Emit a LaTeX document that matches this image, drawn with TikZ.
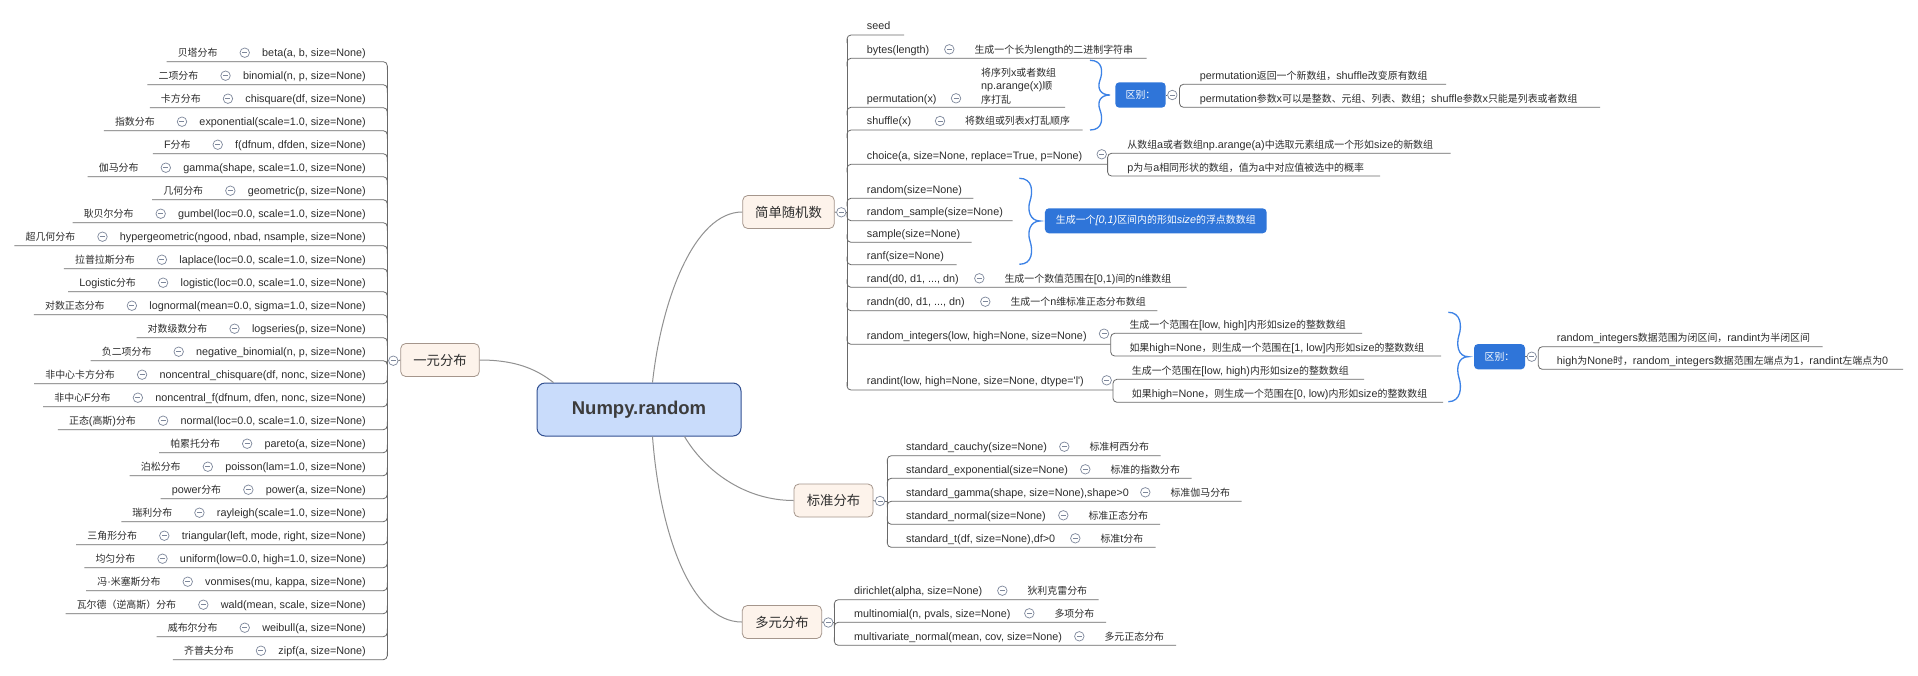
\documentclass[tikz,border=0pt]{standalone}
\usepackage{fontspec}
\setmainfont{Liberation Sans}
\newfontfamily\cjkfont[Scale=0.92]{Noto Sans CJK SC}
\XeTeXinterchartokenstate=1
\newXeTeXintercharclass\cjkcls
\makeatletter
\count@="21
\loop\XeTeXcharclass\count@=0\relax\ifnum\count@<"FF\advance\count@\@ne\repeat
\count@="3000
\loop\XeTeXcharclass\count@=\cjkcls\relax\ifnum\count@<"30FF\advance\count@\@ne\repeat
\count@="4E00
\loop\XeTeXcharclass\count@=\cjkcls\relax\ifnum\count@<"9FFF\advance\count@\@ne\repeat
\count@="FF00
\loop\XeTeXcharclass\count@=\cjkcls\relax\ifnum\count@<"FFEF\advance\count@\@ne\repeat
\makeatother
\XeTeXinterchartoks 0 \cjkcls = {\begingroup\cjkfont}
\XeTeXinterchartoks 4095 \cjkcls = {\begingroup\cjkfont}
\XeTeXinterchartoks \cjkcls 0 = {\endgroup}
\XeTeXinterchartoks \cjkcls 4095 = {\endgroup}

\definecolor{txtc}{RGB}{45,45,45}
\definecolor{linec}{RGB}{105,105,105}
\definecolor{conc}{RGB}{145,145,145}
\definecolor{rootfill}{RGB}{201,220,251}
\definecolor{rootdraw}{RGB}{50,80,145}
\definecolor{brfill}{RGB}{253,243,235}
\definecolor{brdraw}{RGB}{165,150,140}
\definecolor{bluebox}{RGB}{47,117,217}
\definecolor{bracec}{RGB}{60,130,230}
\definecolor{colc}{RGB}{125,135,155}
\definecolor{roottxt}{RGB}{60,60,60}

\tikzset{
  txt/.style={inner sep=0pt, text height=7.8pt, text depth=0pt, font=\fontsize{10.8}{13.3}\selectfont, text=txtc},
  multi/.style={inner sep=0pt, align=left, font=\fontsize{10.8}{13.3}\selectfont, text=txtc},
  ul/.style={draw=linec, line width=0.8pt, rounded corners=4pt},
  conn/.style={draw=conc, line width=1pt},
  brc/.style={draw=bracec, line width=1.3pt},
  col/.style={circle, draw=colc, line width=0.7pt, fill=white, minimum size=9.5pt, inner sep=0pt,
    path picture={\draw[colc, line width=0.7pt] ([xshift=-2.5pt]path picture bounding box.center) -- ([xshift=2.5pt]path picture bounding box.center);}},
  rootbox/.style={draw=rootdraw, fill=rootfill, rounded corners=8pt, line width=1pt, minimum width=204pt, minimum height=53pt, inner sep=0pt, font=\bfseries\fontsize{18.5}{20}\selectfont, text=roottxt},
  branch/.style={draw=brdraw, fill=brfill, rounded corners=5pt, line width=0.8pt, minimum height=33pt, inner sep=0pt, font=\fontsize{14.5}{16}\selectfont, text=txtc},
  bluebx/.style={fill=bluebox, rounded corners=4pt, text=white, font=\fontsize{10.8}{13}\selectfont, inner sep=0pt},
}

% row with circle and child: name, V, x, yc, dd, func, cx, child, endx
\newcommand\frow[9]{%
  \node[txt,anchor=west] (#1f) at (#3,#4) {#6};
  \node[col] (#1c) at (#7,#4) {};
  \node[txt,anchor=west] (#1h) at ({#7+25},#4) {#8};
  \draw[ul] (#2,{#4+9+(#5)}) -- (#2,{#4+9}) -- (#9,{#4+9});
}
% plain row: name, V, x, yc, dd, text, endx
\newcommand\prow[7]{%
  \node[txt,anchor=west] (#1f) at (#3,#4) {#6};
  \draw[ul] (#2,{#4+9+(#5)}) -- (#2,{#4+9}) -- (#7,{#4+9});
}

\begin{document}
\begin{tikzpicture}[x=1pt,y=-1pt]
\fill[white] (0,0) rectangle (1918,675);
\useasboundingbox (0,0) rectangle (1918,675);

% ---------- root and branches ----------
\node[rootbox] (root) at (639,409.5) {Numpy.random};
\node[branch, minimum width=78.6pt] (yy) at (440,360) {一元分布};
\node[branch, minimum width=91.6pt] (jd) at (788.5,212) {简单随机数};
\node[branch, minimum width=79pt] (bz) at (833.5,500.5) {标准分布};
\node[branch, minimum width=79.4pt] (dy) at (782,622) {多元分布};

\draw[conn] ([xshift=17pt]root.north west) .. controls +(-18,-14) and +(35,0) .. (yy.east);
\draw[conn] ([xshift=116pt]root.north west) .. controls +(9,-83) and +(-48,0) .. (jd.west);
\draw[conn] ([xshift=148pt]root.south west) .. controls +(20,34) and +(-49,0) .. (bz.west);
\draw[conn] ([xshift=116pt]root.south west) .. controls +(7,94) and +(-52,0) .. (dy.west);

% ---------- 一元分布 ----------
\node[col] (yyc) at (393.3,360.7) {};
\draw[ul] (yy.west) -- (yyc.east);
\draw[ul] (yyc.west) -- (387.3,360.7);
\draw[ul] (387.3,65.7) -- (387.3,655.7);
\foreach \lab/\fn [count=\i from 0] in {
  贝塔分布/{beta(a, b, size=None)},
  二项分布/{binomial(n, p, size=None)},
  卡方分布/{chisquare(df, size=None)},
  指数分布/{exponential(scale=1.0, size=None)},
  F分布/{f(dfnum, dfden, size=None)},
  伽马分布/{gamma(shape, scale=1.0, size=None)},
  几何分布/{geometric(p, size=None)},
  耿贝尔分布/{gumbel(loc=0.0, scale=1.0, size=None)},
  超几何分布/{hypergeometric(ngood, nbad, nsample, size=None)},
  拉普拉斯分布/{laplace(loc=0.0, scale=1.0, size=None)},
  Logistic分布/{logistic(loc=0.0, scale=1.0, size=None)},
  对数正态分布/{lognormal(mean=0.0, sigma=1.0, size=None)},
  对数级数分布/{logseries(p, size=None)},
  负二项分布/{negative\_binomial(n, p, size=None)},
  非中心卡方分布/{noncentral\_chisquare(df, nonc, size=None)},
  非中心F分布/{noncentral\_f(dfnum, dfen, nonc, size=None)},
  正态(高斯)分布/{normal(loc=0.0, scale=1.0, size=None)},
  帕累托分布/{pareto(a, size=None)},
  泊松分布/{poisson(lam=1.0, size=None)},
  power分布/{power(a, size=None)},
  瑞利分布/{rayleigh(scale=1.0, size=None)},
  三角形分布/{triangular(left, mode, right, size=None)},
  均匀分布/{uniform(low=0.0, high=1.0, size=None)},
  冯·米塞斯分布/{vonmises(mu, kappa, size=None)},
  瓦尔德（逆高斯）分布/{wald(mean, scale, size=None)},
  威布尔分布/{weibull(a, size=None)},
  齐普夫分布/{zipf(a, size=None)}}{
  \pgfmathsetmacro\yc{52.7+23*\i}
  \pgfmathsetmacro\uy{\yc+9}
  \pgfmathsetmacro\dd{ifthenelse(\i<13,8,ifthenelse(\i==13,0.5,-8))}
  \node[txt,anchor=east] (lf\i) at (366,\yc) {\fn};
  \path (lf\i.west) ++(-17.3,0) node[col] (lc\i) {};
  \path (lc\i.center) ++(-27,0) node[txt,anchor=east] (ll\i) {\lab};
  \draw[ul] ([shift={(-11,9)}]ll\i.west) -- (387.3,\uy) -- (387.3,{\uy+\dd});
}

% ---------- 简单随机数 ----------
\node[col] (jdc) at (841.3,212.3) {};
\draw[ul] (jd.east) -- (jdc.west);
\draw[ul] (jdc.east) -- (847,212.3);
\draw[ul] (847,39) -- (847,386);

\prow{seed}{847}{866.7}{26}{8}{seed}{904}
\frow{bytes}{847}{866.7}{49.3}{8}{bytes(length)}{949.3}{生成一个长为length的二进制字符串}{1146.7}
\node[txt,anchor=west] (permf) at (866.7,98.3) {permutation(x)};
\node[col] (permc) at (956,98.3) {};
\node[multi,anchor=west] (permh) at (981,86) {将序列x或者数组\\np.arange(x)顺\\序打乱};
\draw[ul] (847,115.3) -- (847,107.3) -- (1065,107.3);
\frow{shuf}{847}{866.7}{121}{8}{shuffle(x)}{940}{将数组或列表x打乱顺序}{1082.7}

% brace + 区别 (permutation / shuffle)
\draw[brc] (1090,60.3) .. controls (1103,60.3) and (1103,72) .. (1100,80) .. controls (1097,88) and (1100,95) .. (1110,95)
  .. controls (1100,95) and (1097,102) .. (1100,110) .. controls (1103,118) and (1103,130) .. (1090,130);
\node[bluebx, minimum width=50.4pt, minimum height=25.4pt] (qb1) at (1140.5,95) {区别：};
\node[col] (qc1) at (1172.3,95) {};
\draw[ul] (qb1.east) -- (qc1.west);
\draw[ul] (1446,84.3) -- (1179.5,84.3) -- (1179.5,107.3) -- (1600,107.3);
\node[txt,anchor=west] (q1a) at (1199.6,76) {permutation返回一个新数组，shuffle改变原有数组};
\node[txt,anchor=west] (q1b) at (1199.6,98.3) {permutation参数x可以是整数、元组、列表、数组；shuffle参数x只能是列表或者数组};

% choice
\node[txt,anchor=west] (chof) at (866.7,155.7) {choice(a, size=None, replace=True, p=None)};
\node[col] (choc) at (1101.7,154.3) {};
\draw[ul] (847,172.3) -- (847,164.3) -- (1107.6,164.3);
\draw[ul] (1450.6,153.3) -- (1107.6,153.3) -- (1107.6,176) -- (1380,176);
\node[txt,anchor=west] (ch1) at (1127.2,144.3) {从数组a或者数组np.arange(a)中选取元素组成一个形如size的新数组};
\node[txt,anchor=west] (ch2) at (1127.2,167.7) {p为与a相同形状的数组，值为a中对应值被选中的概率};

% random group
\prow{rnd}{847}{866.7}{189.3}{8}{random(size=None)}{973.3}
\prow{rsm}{847}{866.7}{211.7}{-8}{random\_sample(size=None)}{1012.7}
\prow{smp}{847}{866.7}{233.3}{-8}{sample(size=None)}{971.7}
\prow{rnf}{847}{866.7}{255.7}{-8}{ranf(size=None)}{956.7}
\draw[brc] (1019.3,178.3) .. controls (1033,178.3) and (1033,192) .. (1030,201) .. controls (1027,210) and (1030,221) .. (1040,221)
  .. controls (1030,221) and (1027,232) .. (1030,241) .. controls (1033,250) and (1033,264.3) .. (1019.3,264.3);
\node[bluebx, minimum width=221.7pt, minimum height=25pt] (qb2) at (1155.8,220.8) {生成一个\textit{[0,1)}区间内的形如\textit{size}的浮点数数组};

\frow{rand}{847}{866.7}{278.3}{-8}{rand(d0, d1, ..., dn)}{979.3}{生成一个数值范围在[0,1)间的n维数组}{1186.7}
\frow{randn}{847}{866.7}{301.7}{-8}{randn(d0, d1, ..., dn)}{985.3}{生成一个n维标准正态分布数组}{1157.3}

% random_integers
\node[txt,anchor=west] (rif) at (866.7,335.7) {random\_integers(low, high=None, size=None)};
\node[col] (ric) at (1104,333.7) {};
\draw[ul] (847,336.3) -- (847,344.3) -- (1110.7,344.3);
\draw[ul] (1362,333.3) -- (1110.7,333.3) -- (1110.7,356) -- (1441,356);
\node[txt,anchor=west] (ri1) at (1129.3,324.3) {生成一个范围在[low, high]内形如size的整数数组};
\node[txt,anchor=west] (ri2) at (1129.3,347.7) {如果high=None，则生成一个范围在[1, low]内形如size的整数数组};

% randint
\node[txt,anchor=west] (rtf) at (866.7,381) {randint(low, high=None, size=None, dtype=\textquotesingle l\textquotesingle)};
\node[col] (rtc) at (1106.7,380.3) {};
\draw[ul] (847,382) -- (847,390) -- (1113,390);
\draw[ul] (1364,379.3) -- (1113,379.3) -- (1113,402.3) -- (1443,402.3);
\node[txt,anchor=west] (rt1) at (1131.7,370.7) {生成一个范围在[low, high)内形如size的整数数组};
\node[txt,anchor=west] (rt2) at (1131.7,393.3) {如果high=None，则生成一个范围在[0, low)内形如size的整数数组};

% brace + 区别 (random_integers / randint)
\draw[brc] (1448.3,312.3) .. controls (1461,312.3) and (1462,326) .. (1459,335) .. controls (1456,345) and (1458,356.7) .. (1468.3,356.7)
  .. controls (1458,356.7) and (1456,368) .. (1459,378) .. controls (1462,387) and (1461,401.7) .. (1448.3,401.7);
\node[bluebx, minimum width=51pt, minimum height=25.3pt] (qb3) at (1499.5,356.7) {区别：};
\node[col] (qc3) at (1531.7,356.7) {};
\draw[ul] (qb3.east) -- (qc3.west);
\draw[ul] (1822.7,346.7) -- (1538.3,346.7) -- (1538.3,369.3) -- (1903,369.3);
\node[txt,anchor=west] (q3a) at (1556.7,337.3) {random\_integers数据范围为闭区间，randint为半闭区间};
\node[txt,anchor=west] (q3b) at (1556.7,361) {high为None时，random\_integers数据范围左端点为1，randint左端点为0};

% ---------- 标准分布 ----------
\node[col] (bzc) at (880,501) {};
\draw[ul] (bz.east) -- (bzc.west);
\draw[ul] (bzc.east) -- (887.3,501);
\draw[ul] (887.3,459.7) -- (887.3,543);
\frow{sc}{887.3}{906}{446.7}{8}{standard\_cauchy(size=None)}{1064.3}{标准柯西分布}{1160.7}
\frow{se}{887.3}{906}{469.3}{8}{standard\_exponential(size=None)}{1085.3}{标准的指数分布}{1191.7}
\frow{sg}{887.3}{906}{492.3}{0.5}{standard\_gamma(shape, size=None),shape>0}{1145.3}{标准伽马分布}{1241.7}
\frow{sn}{887.3}{906}{515.3}{-8}{standard\_normal(size=None)}{1063.3}{标准正态分布}{1160}
\frow{st}{887.3}{906}{538.3}{-8}{standard\_t(df, size=None),df>0}{1075.3}{标准t分布}{1155.7}

% ---------- 多元分布 ----------
\node[col] (dyc) at (828.3,622.5) {};
\draw[ul] (dy.east) -- (dyc.west);
\draw[ul] (dyc.east) -- (834.3,622.5);
\draw[ul] (834.3,603.7) -- (834.3,641.3);
\frow{md}{834.3}{854}{590.7}{8}{dirichlet(alpha, size=None)}{1002.3}{狄利克雷分布}{1098.7}
\frow{mm}{834.3}{854}{613.3}{0.5}{multinomial(n, pvals, size=None)}{1029.3}{多项分布}{1106}
\frow{mv}{834.3}{854}{636.3}{-8}{multivariate\_normal(mean, cov, size=None)}{1079.3}{多元正态分布}{1176}
\end{tikzpicture}
\end{document}
